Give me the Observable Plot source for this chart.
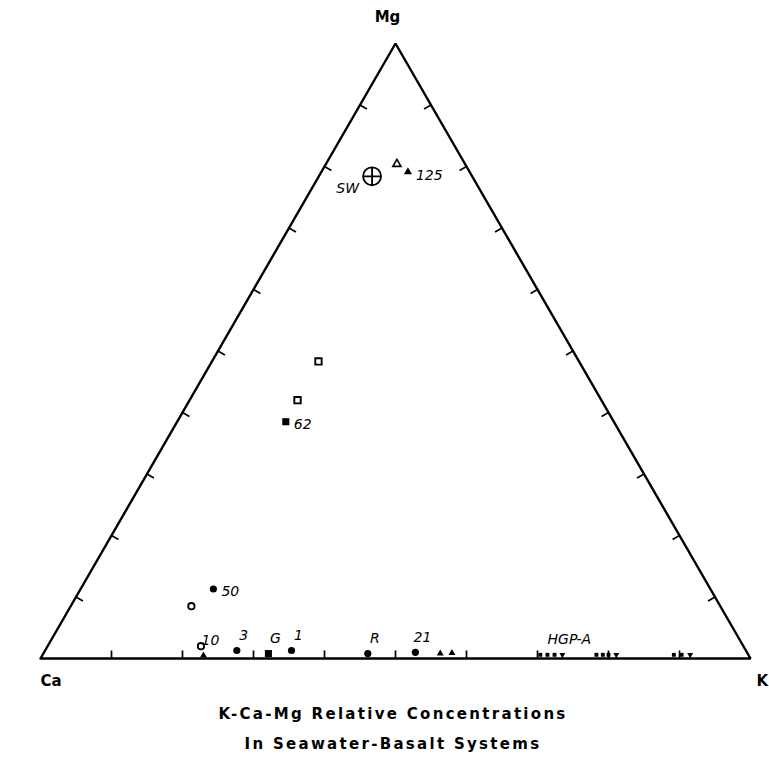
<!DOCTYPE html>
<html><head><meta charset="utf-8">
<script src="https://cdn.jsdelivr.net/npm/d3@7"></script>
<script src="https://cdn.jsdelivr.net/npm/@observablehq/plot@0.6"></script>
<style>
body{margin:0;background:#fff;}
#chart svg{display:block}
.cap{font-family:"DejaVu Sans",sans-serif;font-weight:bold;font-size:15px;letter-spacing:2.3px;text-align:center;line-height:30px;color:#000;padding-top:9px;width:786px}
</style></head><body>
<div id="chart"></div>
<div class="cap"><div></div><div></div></div>
<script>
// ---- data (ternary percentages) ----
const vertexNames = ["Ca", "K", "Mg"];
const tickValues = [10, 20, 30, 40, 50, 60, 70, 80, 90];
const sampleKind  = ["sw","triOpen","triFill","sqOpen","sqOpen","sqFill","cirFill","cirOpen","cirOpen","triSmall","cirFill","sqFill","cirFill","cirFill","cirFill","triSmall","triSmall",
                     "tinySq","tinySq","tinySq","tinyTri","tinySq","tinySq","tinySq","tinyTri","tinySq","tinySq","tinyTri"];
const sampleMg    = [78.4, 80.4, 79.1, 48.3, 42.0, 38.5, 11.3, 8.5, 2.0, 0.5, 1.3, 0.8, 1.3, 0.8, 1.0, 0.8, 0.9,
                     0.6, 0.6, 0.6, 0.6, 0.6, 0.6, 0.6, 0.6, 0.6, 0.6, 0.6];
const sampleK     = [7.5, 10.0, 12.2, 15.0, 15.2, 15.3, 18.7, 17.0, 21.6, 22.7, 27.0, 31.7, 34.7, 45.7, 52.3, 55.9, 57.5,
                     70.1, 71.1, 72.1, 73.2, 78.0, 78.9, 79.7, 80.8, 88.9, 90.0, 91.2];
const sampleLabel = ["SW","","125","","","62","50","","","10","3","G","1","R","21","","",
                     "","","","HGP-A","","","","","","",""];
const captionLines = ["K-Ca-Mg Relative Concentrations", "In Seawater-Basalt Systems"];

// ---- layout ----
const W = 769, H = 690;
const X0 = 40, X1 = 750, Y0 = 658, Y1 = 43;
const TICK = 8;

// ternary -> cartesian (K to the right, Mg up)
const tx = (k, mg) => k / 100 + mg / 200;
const ty = (mg) => mg / 100;

const vertices = [
  {name: vertexNames[0], x: tx(0, 0),   y: ty(0)},
  {name: vertexNames[1], x: tx(100, 0), y: ty(0)},
  {name: vertexNames[2], x: tx(0, 100), y: ty(100)}
];
const outline = [...vertices, vertices[0]];

const pxX = 1 / (X1 - X0), pxY = 1 / (Y0 - Y1);
const c30 = Math.cos(Math.PI / 6), s30 = Math.sin(Math.PI / 6);
const ticks = [];
for (const t of tickValues) {
  ticks.push({x1: tx(t, 0), y1: ty(0), x2: tx(t, 0), y2: ty(0) + TICK * pxY});
  ticks.push({x1: tx(0, t), y1: ty(t), x2: tx(0, t) + TICK * c30 * pxX, y2: ty(t) - TICK * s30 * pxY});
  ticks.push({x1: tx(100 - t, t), y1: ty(t), x2: tx(100 - t, t) - TICK * c30 * pxX, y2: ty(t) - TICK * s30 * pxY});
}

const samples = sampleKind.map((kind, i) => ({
  kind, label: sampleLabel[i], x: tx(sampleK[i], sampleMg[i]), y: ty(sampleMg[i])
}));
const of = (k) => samples.filter(d => d.kind === k);

const circlePlus = {
  draw(ctx, size) {
    const r = Math.sqrt(size / Math.PI);
    ctx.moveTo(r, 0); ctx.arc(0, 0, r, 0, 2 * Math.PI);
    ctx.moveTo(-r, 0); ctx.lineTo(r, 0);
    ctx.moveTo(0, -r); ctx.lineTo(0, r);
  }
};

const leftLab = new Set(["SW"]);
const rightLab = new Set(["125", "62", "50"]);
const labelled = samples.filter(d => d.label);
const lblFont = {fontFamily: "DejaVu Sans, sans-serif", fontSize: 14, fontStyle: "italic"};
const vFont = {fontFamily: "DejaVu Sans, sans-serif", fontSize: 15, fontWeight: "bold"};

const chart = Plot.plot({
  width: W, height: H,
  marginLeft: X0, marginRight: W - X1, marginTop: Y1, marginBottom: H - Y0,
  x: {domain: [0, 1], axis: null},
  y: {domain: [0, 1], axis: null},
  style: {background: "white"},
  marks: [
    Plot.line(outline, {x: "x", y: "y", stroke: "black", strokeWidth: 2.4, strokeLinejoin: "miter"}),
    Plot.link(ticks, {x1: "x1", y1: "y1", x2: "x2", y2: "y2", stroke: "black", strokeWidth: 1.7}),
    Plot.dot(of("sw"), {x: "x", y: "y", r: 9, symbol: circlePlus, stroke: "black", fill: "none", strokeWidth: 1.8}),
    Plot.dot(of("triOpen"), {x: "x", y: "y", r: 3, symbol: "triangle", stroke: "black", fill: "white", strokeWidth: 1.6}),
    Plot.dot(of("triFill"), {x: "x", y: "y", r: 3, symbol: "triangle", fill: "black"}),
    Plot.dot(of("triSmall"), {x: "x", y: "y", r: 2.6, symbol: "triangle", fill: "black"}),
    Plot.dot(of("sqOpen"), {x: "x", y: "y", r: 3.6, symbol: "square", stroke: "black", fill: "white", strokeWidth: 1.9}),
    Plot.dot(of("sqFill"), {x: "x", y: "y", r: 4, symbol: "square", fill: "black"}),
    Plot.dot(of("cirFill"), {x: "x", y: "y", r: 3.6, fill: "black"}),
    Plot.dot(of("cirOpen"), {x: "x", y: "y", r: 3.2, stroke: "black", fill: "white", strokeWidth: 1.8}),
    Plot.dot(of("tinySq"), {x: "x", y: "y", r: 2.2, symbol: "square", fill: "black"}),
    Plot.dot(of("tinyTri"), {x: "x", y: "y", r: 2.2, symbol: "triangle", fill: "black", rotate: 180}),
    Plot.text(labelled.filter(d => leftLab.has(d.label)), {x: "x", y: "y", text: "label", textAnchor: "end", dx: -13, dy: 12, ...lblFont}),
    Plot.text(labelled.filter(d => rightLab.has(d.label)), {x: "x", y: "y", text: "label", textAnchor: "start", dx: 8, dy: 3, ...lblFont}),
    Plot.text(labelled.filter(d => !leftLab.has(d.label) && !rightLab.has(d.label)), {x: "x", y: "y", text: "label", textAnchor: "middle", dx: 7, dy: -15, ...lblFont}),
    Plot.text(vertices.slice(0, 1), {x: "x", y: "y", text: "name", textAnchor: "start", dx: 0, dy: 23, ...vFont}),
    Plot.text(vertices.slice(1, 2), {x: "x", y: "y", text: "name", textAnchor: "start", dx: 6, dy: 23, ...vFont}),
    Plot.text(vertices.slice(2, 3), {x: "x", y: "y", text: "name", textAnchor: "middle", dx: -8, dy: -26, ...vFont})
  ]
});
document.getElementById("chart").appendChild(chart);
const capDivs = document.querySelectorAll(".cap div");
captionLines.forEach((t, i) => capDivs[i].textContent = t);
</script>
</body></html>
